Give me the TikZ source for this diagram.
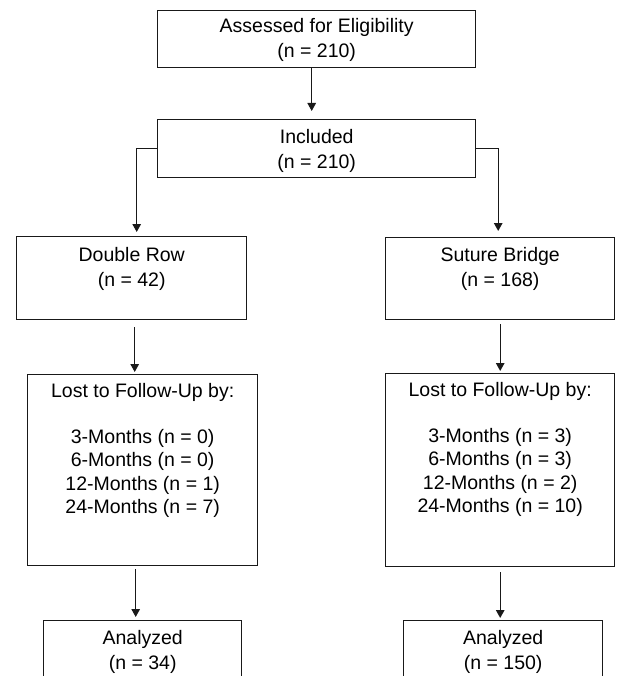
\documentclass[tikz,border=0pt]{standalone}
\usepackage{fontspec}
\setmainfont{Liberation Sans}
\usetikzlibrary{arrows.meta,calc}
\begin{document}
\begin{tikzpicture}[x=1pt,y=-1pt,
  box/.style={draw=black!90, line width=1.4pt, inner sep=0pt, anchor=north west},
  lbl/.style={inner sep=0pt, align=center, text=black, font=\fontsize{19.5}{25}\selectfont},
  lbllist/.style={lbl, font=\fontsize{19.5}{23.2}\selectfont},
  arr/.style={draw=black!90, line width=1.3pt, -{Triangle[length=8pt,width=8.5pt]}}
]
\useasboundingbox (0,0) rectangle (617,676);
\clip (0,0) rectangle (617,676);
% boxes
\node[box, minimum width=318pt, minimum height=57pt] (A) at (157,10) {};
\node[box, minimum width=318pt, minimum height=58pt] (B) at (157,119) {};
\node[box, minimum width=230pt, minimum height=83pt] (C) at (16,236) {};
\node[box, minimum width=229pt, minimum height=82pt] (D) at (385,237) {};
\node[box, minimum width=230pt, minimum height=191pt] (E) at (27,374) {};
\node[box, minimum width=229pt, minimum height=193pt] (F) at (385,373) {};
\node[box, minimum width=198pt, minimum height=80pt] (G) at (43,620) {};
\node[box, minimum width=199pt, minimum height=80pt] (H) at (403,620) {};
% texts
\node[lbl] (tA) at ([yshift=-1pt]A.center) {Assessed for Eligibility\\(n = 210)};
\node[lbl] (tB) at ([yshift=-2pt]B.center) {Included\\(n = 210)};
\node[lbl, anchor=north] (tC) at ([yshift=-11pt]C.north) {Double Row\\(n = 42)};
\node[lbl, anchor=north] (tD) at ([yshift=-10pt]D.north) {Suture Bridge\\(n = 168)};
\node[lbllist, anchor=north] (tE) at ([yshift=-9pt]E.north) {Lost to Follow-Up by:\\[23.2pt]3-Months (n = 0)\\6-Months (n = 0)\\12-Months (n = 1)\\24-Months (n = 7)};
\node[lbllist, anchor=north] (tF) at ([yshift=-9pt]F.north) {Lost to Follow-Up by:\\[23.2pt]3-Months (n = 3)\\6-Months (n = 3)\\12-Months (n = 2)\\24-Months (n = 10)};
\node[lbl, anchor=north] (tG) at ([yshift=-10pt]G.north) {Analyzed\\(n = 34)};
\node[lbl, anchor=north] (tH) at ([yshift=-10pt]H.north) {Analyzed\\(n = 150)};
% connectors
\draw[arr, shorten >=8pt] ([xshift=-5pt]A.south) -- ([xshift=-5pt]A.south |- B.north);
\draw[arr, shorten >=4pt] (B.west) -| ([xshift=5pt]C.north);
\draw[arr, shorten >=6pt] (B.east) -| ([xshift=-2pt]D.north);
\draw[arr, shorten <=7pt, shorten >=2pt] ([xshift=3pt]C.south) -- ([xshift=3pt]C.south |- E.north);
\draw[arr, shorten <=4pt, shorten >=2pt] (D.south) -- (D.south |- F.north);
\draw[arr, shorten <=3pt, shorten >=3pt] ([xshift=-7pt]E.south) -- ([xshift=-7pt]E.south |- G.north);
\draw[arr, shorten <=5pt, shorten >=2pt] ([xshift=0pt]F.south) -- (F.south |- H.north);
\end{tikzpicture}
\end{document}
